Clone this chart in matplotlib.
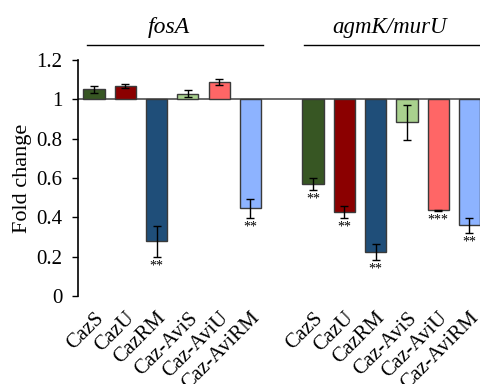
import numpy as np
import matplotlib
matplotlib.use("Agg")
import matplotlib.pyplot as plt

plt.rcParams['font.family'] = ['Liberation Serif', 'DejaVu Serif']

# strains / conditions
labels = ["CazS", "CazU", "CazRM", "Caz-AviS", "Caz-AviU", "Caz-AviRM"]
colors = ["#375623", "#8B0000", "#1F4E79", "#A9D18E", "#FF6666", "#8DB3FF"]

# fold change values
fosA_vals = [1.051, 1.068, 0.278, 1.029, 1.088, 0.445]
fosA_err = [0.017, 0.011, 0.078, 0.018, 0.014, 0.047]
fosA_sig = ["", "", "**", "", "", "**"]

agmK_vals = [0.570, 0.428, 0.223, 0.883, 0.435, 0.359]
agmK_err = [0.030, 0.032, 0.041, 0.088, 0.003, 0.037]
agmK_sig = ["**", "**", "**", "", "***", "**"]

genes = ["fosA", "agmK/murU"]

fig = plt.figure(figsize=(4.8, 3.84), dpi=100)
ax = fig.add_axes([0.1632, 0.229, 0.8475, 0.615])

x1 = np.arange(6)
x2 = np.arange(6) + 7
xs = np.concatenate([x1, x2])
vals = np.array(fosA_vals + agmK_vals)
errs = np.array(fosA_err + agmK_err)
sigs = fosA_sig + agmK_sig

# bars hang from the baseline at 1
ax.bar(xs, vals - 1, bottom=1, width=0.68, color=colors * 2,
       edgecolor="#3a3a3a", linewidth=1.0, zorder=2)
ax.errorbar(xs, vals, yerr=errs, fmt="none", ecolor="black",
            elinewidth=1.0, capsize=3, capthick=1.0, zorder=3)
ax.axhline(1, color="#505050", linewidth=1.2, zorder=1)

for x, v, e, s in zip(xs, vals, errs, sigs):
    if s:
        ax.text(x, v - e - 0.012, s, ha="center", va="top", fontsize=10)

ax.set_xlim(-0.5, 12.5)
ax.set_ylim(0, 1.2)
ax.set_yticks([0, 0.2, 0.4, 0.6, 0.8, 1.0, 1.2])
ax.set_yticklabels(["0", "0.2", "0.4", "0.6", "0.8", "1", "1.2"], fontsize=15)
ax.set_ylabel("Fold change", fontsize=16, labelpad=3)

ax.set_xticks(xs)
ax.set_xticklabels(labels * 2, rotation=45, ha="right",
                   rotation_mode="anchor", fontsize=15)
ax.tick_params(axis="x", length=0, pad=9)
ax.tick_params(axis="y", length=4.5, width=1.0, direction="out", pad=7)

for sp in ["top", "right", "bottom"]:
    ax.spines[sp].set_visible(False)
ax.spines["left"].set_linewidth(1.2)

# gene headers with underline
ax.plot([-0.23, 5.39], [1.276, 1.276], color="black", lw=1.0, clip_on=False)
ax.plot([6.71, 12.6], [1.276, 1.276], color="black", lw=1.0, clip_on=False)
ax.text(2.4, 1.366, genes[0], ha="center", va="center", fontsize=17,
        style="italic")
ax.text(9.43, 1.366, genes[1], ha="center", va="center", fontsize=16.5,
        style="italic")

fig.savefig("out.png", dpi=100)
